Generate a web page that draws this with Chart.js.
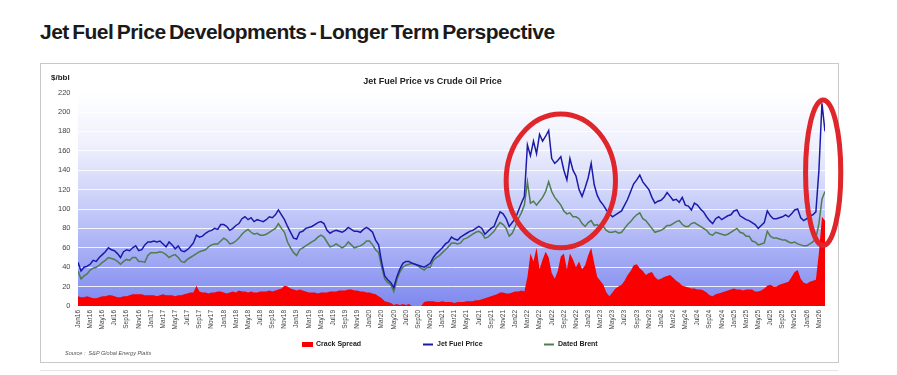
<!DOCTYPE html>
<html>
<head>
<meta charset="utf-8">
<script src="https://cdn.jsdelivr.net/npm/chart.js@4.4.1/dist/chart.umd.min.js"></script>
<style>
  body { margin: 0; width: 897px; height: 375px; background: #fff; position: relative; overflow: hidden; }
  #heading {
    position: absolute; left: 40px; top: 21px;
    font: bold 21px/22px 'Liberation Sans', Arial, sans-serif;
    letter-spacing: -0.5px; word-spacing: -2px; color: #1a1a1a; white-space: nowrap;
  }
  #panel { position: absolute; left: 40px; top: 63px; width: 797px; height: 298px; border: 1px solid #c9c9c9; }
  #rule { position: absolute; left: 40px; top: 370px; width: 798px; height: 1px; background: #e4e4e4; }
  #chart { position: absolute; left: 0; top: 0; }
</style>
</head>
<body>
<div id="heading">Jet Fuel Price Developments - Longer Term Perspective</div>
<div id="panel"></div>
<div id="rule"></div>
<canvas id="chart" width="897" height="375"></canvas>
<script>
// DATA (two readings per month, Jan16 .. end Mar26), $/bbl
// -----------------------------
let jetFuel = [
  45, 36, 40, 41, 43, 47, 46, 50, 53, 56, 60, 58, 57, 54, 50, 56, 58, 57, 60, 62, 57, 58, 63, 66, // 2016
  66, 67, 66, 67, 64, 61, 66, 63, 59, 62, 57, 56, 58, 61, 65, 73, 71, 72, 75, 77, 78, 80, 79, 84, // 2017
  84, 82, 78, 80, 83, 85, 90, 92, 89, 91, 87, 89, 88, 87, 89, 92, 91, 94, 99, 94, 89, 82, 76, 70, // 2018
  69, 76, 77, 80, 81, 82, 84, 86, 87, 85, 78, 75, 77, 78, 77, 76, 78, 81, 79, 77, 77, 76, 79, 81, // 2019
  79, 76, 68, 63, 45, 31, 27, 24, 19, 30, 38, 44, 46, 46, 44, 43, 42, 41, 40, 42, 44, 50, 54, 57, // 2020
  60, 64, 66, 71, 69, 68, 71, 73, 75, 77, 78, 80, 82, 80, 74, 77, 80, 82, 90, 97, 95, 90, 82, 86, // 2021
  90, 98, 106, 113, 166, 155, 170, 157, 177, 170, 175, 181, 152, 147, 150, 154, 140, 130, 152, 140, 134, 120, 113, 122, // 2022
  132, 147, 125, 114, 108, 104, 99, 95, 92, 94, 96, 98, 104, 110, 118, 126, 130, 135, 128, 124, 120, 112, 106, 108, // 2023
  109, 112, 117, 113, 109, 110, 107, 112, 104, 103, 99, 106, 104, 100, 97, 92, 88, 85, 90, 92, 89, 91, 93, 94, // 2024
  98, 99, 93, 91, 89, 88, 86, 84, 80, 83, 86, 98, 93, 90, 90, 91, 92, 94, 92, 95, 99, 100, 91, 88, // 2025
  90, 93, 94, 97, 140, 209, 180 // 2026
];
let datedBrent = [
  36, 28, 31, 33, 37, 39, 40, 42, 45, 47, 50, 49, 48, 46, 43, 46, 48, 47, 50, 50, 46, 46, 45, 52,
  55, 55, 55, 56, 55, 53, 50, 52, 53, 50, 46, 45, 48, 50, 52, 54, 56, 57, 58, 61, 63, 64, 64, 67,
  70, 68, 64, 65, 67, 70, 74, 77, 79, 76, 74, 75, 73, 73, 74, 76, 78, 80, 85, 80, 76, 66, 60, 55,
  52, 58, 60, 62, 64, 66, 68, 71, 73, 71, 66, 61, 62, 64, 62, 60, 62, 66, 63, 60, 61, 62, 64, 67,
  67, 63, 58, 55, 40, 28, 24, 22, 15, 27, 35, 40, 42, 43, 44, 43, 41, 39, 37, 40, 40, 47, 50, 52,
  55, 58, 61, 65, 65, 64, 65, 69, 70, 72, 74, 76, 77, 75, 70, 71, 74, 77, 82, 86, 84, 80, 72, 75,
  82, 90, 96, 104, 128, 106, 108, 104, 108, 112, 118, 128, 118, 112, 108, 104, 98, 95, 96, 92, 92, 90, 85, 82,
  86, 88, 83, 84, 80, 82, 78, 76, 76, 77, 75, 76, 80, 84, 87, 91, 94, 96, 90, 88, 84, 80, 76, 77,
  78, 80, 83, 83, 85, 87, 88, 84, 82, 82, 85, 86, 84, 82, 80, 78, 74, 73, 76, 75, 74, 73, 74, 76,
  78, 80, 76, 75, 72, 72, 67, 66, 63, 64, 65, 77, 72, 70, 70, 69, 68, 68, 66, 65, 66, 64, 63, 62,
  62, 64, 66, 70, 85, 110, 118
];
let crackSpread = [
  10, 9, 9, 10, 9, 8, 8, 9, 10, 10, 11, 11, 10, 9, 9, 10, 10, 11, 12, 12, 12, 12, 11, 11,
  11, 11, 10, 11, 12, 11, 11, 11, 10, 11, 11, 12, 13, 14, 14, 21, 15, 14, 14, 13, 14, 14, 15, 15,
  14, 13, 14, 15, 14, 16, 15, 15, 14, 15, 14, 14, 15, 15, 15, 16, 15, 16, 17, 18, 21, 20, 18, 17,
  16, 17, 16, 15, 14, 14, 14, 13, 14, 14, 14, 15, 15, 15, 16, 16, 16, 17, 17, 16, 16, 15, 15, 14,
  14, 13, 12, 10, 8, 5, 4, 3, 1, 2, 1, 2, 1, 2, 0, 0, 0, 0, 4, 5, 5, 5, 4, 4,
  5, 4, 4, 4, 3, 4, 4, 4, 5, 5, 5, 6, 6, 7, 8, 9, 10, 11, 12, 14, 14, 13, 13, 14,
  15, 15, 16, 15, 30, 54, 46, 60, 38, 48, 56, 50, 34, 28, 36, 51, 54, 38, 54, 48, 40, 46, 38, 42,
  52, 60, 44, 30, 26, 22, 14, 10, 14, 18, 20, 22, 26, 32, 36, 42, 43, 39, 36, 32, 34, 35, 30, 27,
  28, 30, 31, 32, 29, 26, 24, 21, 20, 19, 18, 18, 17, 17, 16, 14, 11, 10, 12, 13, 14, 15, 16, 17,
  18, 17, 17, 16, 17, 17, 17, 15, 15, 16, 18, 21, 22, 20, 20, 22, 23, 24, 25, 30, 35, 37, 28, 24,
  23, 25, 26, 27, 55, 92, 88
];

// tick labels, one per month from Jan16
let monthNames = ['Jan', 'Feb', 'Mar', 'Apr', 'May', 'Jun', 'Jul', 'Aug', 'Sep', 'Oct', 'Nov', 'Dec'];
let monthLabels = [];
for (let yr = 16; yr <= 26; yr++) {
  monthNames.forEach(m => monthLabels.push(m + yr));
}

// red rings drawn on the slide (centre month / price, half size in months / $)
let highlights = [
  { month: 79.5, price: 129, dMonth: 9, dPrice: 69 },
  { month: 122.7, price: 137.5, dMonth: 2.9, dPrice: 75 },
];

// COLOURS
// -----------------------------
let jetColor = '#1b1ba8';
let brentColor = '#4f7d4f';
let crackColor = '#fa0000';
let ringColor = '#e0252b';

Chart.defaults.font.family = "'Liberation Sans', Arial, sans-serif";

const toPoints = arr => arr.map((v, i) => ({ x: i / 2, y: v }));

// background, rings, legend and notes
const slideDecor = {
  id: 'slideDecor',
  beforeDraw(chart) {
    const { ctx, chartArea: a } = chart;
    const g = ctx.createLinearGradient(0, a.top, 0, a.bottom);
    g.addColorStop(0, '#ffffff');
    g.addColorStop(0.25, '#eef0fd');
    g.addColorStop(0.55, '#c4caf8');
    g.addColorStop(1, '#7f89ef');
    ctx.save();
    ctx.fillStyle = g;
    ctx.fillRect(a.left, a.top, a.right - a.left, a.bottom - a.top);
    ctx.restore();
  },
  afterDraw(chart) {
    const { ctx, scales: { x, y }, chartArea: a } = chart;
    ctx.save();

    // rings
    ctx.strokeStyle = ringColor;
    ctx.lineWidth = 5;
    highlights.forEach(h => {
      const cx = x.getPixelForValue(h.month);
      const cy = y.getPixelForValue(h.price);
      const rx = x.getPixelForValue(h.month + h.dMonth) - cx;
      const ry = cy - y.getPixelForValue(h.price + h.dPrice);
      ctx.beginPath();
      ctx.ellipse(cx, cy, rx, ry, 0, 0, Math.PI * 2);
      ctx.stroke();
    });

    // unit label
    ctx.fillStyle = '#222';
    ctx.font = "bold 8px 'Liberation Sans', Arial, sans-serif";
    ctx.textBaseline = 'middle';
    ctx.fillText('$/bbl', 51, 78);

    // legend
    const legendY = 344.5;
    const legendX = [302, 423, 544];
    ctx.font = "bold 7px 'Liberation Sans', Arial, sans-serif";
    chart.data.datasets.forEach((ds, i) => {
      const lx = legendX[i];
      if (ds.fill) {
        ctx.fillStyle = ds.backgroundColor;
        ctx.fillRect(lx, legendY - 2.5, 11, 5);
      } else {
        ctx.strokeStyle = ds.borderColor;
        ctx.lineWidth = 2;
        ctx.beginPath();
        ctx.moveTo(lx, legendY);
        ctx.lineTo(lx + 10, legendY);
        ctx.stroke();
      }
      ctx.fillStyle = '#222';
      ctx.fillText(ds.label, lx + 14, legendY);
    });

    // source
    ctx.fillStyle = '#555';
    ctx.font = "italic 5.5px 'Liberation Sans', Arial, sans-serif";
    ctx.fillText('Source :  S&P Global Energy Platts', 65, 353.5);
    ctx.restore();
  }
};

new Chart(document.getElementById('chart'), {
  type: 'line',
  data: {
    datasets: [
      {
        label: 'Crack Spread',
        data: toPoints(crackSpread),
        fill: 'origin',
        backgroundColor: crackColor,
        borderColor: crackColor,
        borderWidth: 0,
        pointRadius: 0,
        order: 3,
      },
      {
        label: 'Jet Fuel Price',
        data: toPoints(jetFuel),
        fill: false,
        borderColor: jetColor,
        borderWidth: 1.5,
        pointRadius: 0,
        order: 1,
      },
      {
        label: 'Dated Brent',
        data: toPoints(datedBrent),
        fill: false,
        borderColor: brentColor,
        borderWidth: 1.5,
        pointRadius: 0,
        order: 2,
      },
    ],
  },
  options: {
    responsive: false,
    animation: false,
    layout: { padding: { left: 40, right: 72, top: 0, bottom: 39 } },
    plugins: {
      legend: { display: false },
      tooltip: { enabled: false },
      title: {
        display: true,
        text: 'Jet Fuel Price vs Crude Oil Price',
        color: '#222',
        font: { size: 9, weight: 'bold' },
        padding: { top: 76, bottom: 5.8 },
      },
    },
    scales: {
      x: {
        type: 'linear',
        min: 0,
        max: 123,
        grid: { display: false, drawTicks: false },
        border: { display: false },
        ticks: {
          stepSize: 2,
          autoSkip: false,
          includeBounds: false,
          minRotation: 90,
          maxRotation: 90,
          padding: 4,
          color: '#444',
          font: { size: 6.5 },
          callback: v => monthLabels[v],
        },
        afterFit: s => { s.height = 30; },
      },
      y: {
        min: 0,
        max: 220,
        grid: { color: 'rgba(255,255,255,0.85)', drawTicks: false },
        border: { display: false },
        ticks: { stepSize: 20, padding: 7.5, color: '#444', font: { size: 7.5 } },
        afterFit: s => { s.width = 38; },
      },
    },
  },
  plugins: [slideDecor],
});
</script>
</body>
</html>
